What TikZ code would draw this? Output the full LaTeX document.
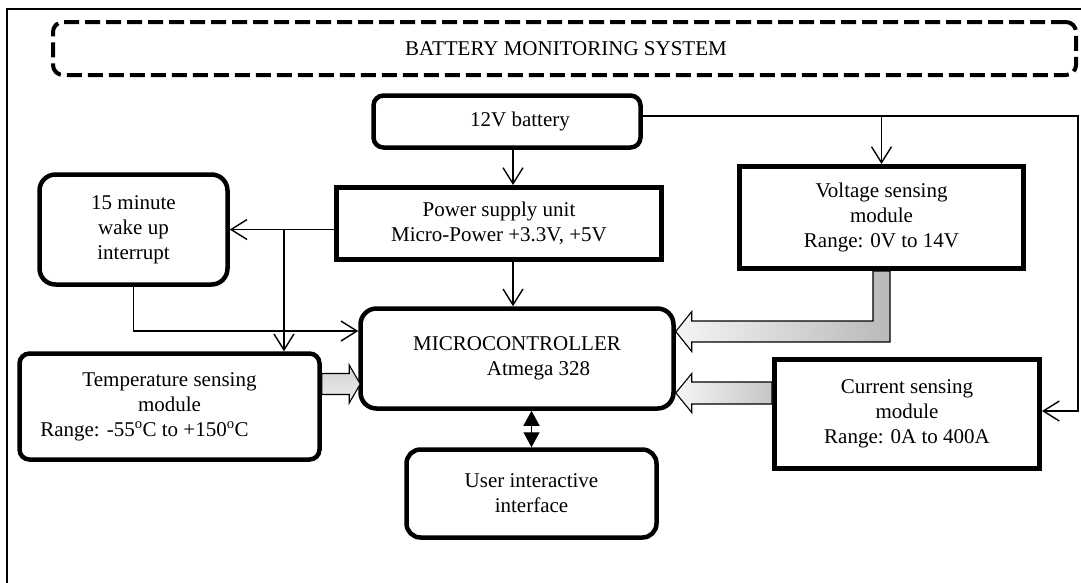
\documentclass[tikz,border=0pt]{standalone}
\usepackage{fontspec}
\setmainfont{Liberation Serif}
\usetikzlibrary{arrows.meta,calc}
\begin{document}
\begin{tikzpicture}[x=1pt,y=-1pt,
  every node/.style={font=\fontsize{21}{25}\selectfont, align=center, inner sep=0pt},
  rbox/.style={draw, line width=4.5pt, rounded corners=12pt},
  sbox/.style={draw, line width=5pt},
  conn/.style={line width=1.4pt, -{Straight Barb[length=16pt,width=20pt,line width=1.4pt]}},
  wire/.style={line width=1.4pt},
  fat/.style={draw=black, line width=1.1pt},
]
\clip (0,0) rectangle (1081,582);
\fill[white] (0,0) rectangle (1081,582);
% outer frame
\draw[line width=1.6pt] (7,620) -- (7,9) -- (1120,9);

% title
\node[draw, line width=4pt, dash pattern=on 15pt off 6pt, rounded corners=10pt,
      minimum width=1023pt, minimum height=53pt] (title) at (564.5,48.5)
      {\hspace*{3pt}BATTERY MONITORING SYSTEM};

% boxes
\node[rbox, rounded corners=10pt, minimum width=267pt, minimum height=52pt] (bat) at (507,121.5) {\hspace*{26pt}12V battery};
\node[sbox, minimum width=325pt, minimum height=72pt] (psu) at (499,223.5) {Power supply unit\\Micro-Power +3.3V, +5V};
\node[rbox, rounded corners=16pt, minimum width=188pt, minimum height=110pt] (wake) at (133.5,229.5) {15 minute\\wake up\\interrupt};
\node[sbox, minimum width=284pt, minimum height=102pt] (volt) at (881.5,217.5) {Voltage sensing\\module\\Range: 0V to 14V};
\node[rbox, rounded corners=16pt, minimum width=313pt, minimum height=100pt] (mcu) at (517,358.5) {MICROCONTROLLER\\\hspace*{43pt}Atmega 328};
\node[rbox, rounded corners=10pt, minimum width=300pt, minimum height=106pt] (temp) at (169.5,406.5) {Temperature sensing\\module\\Range: -55\textsuperscript{o}C to +150\textsuperscript{o}C\hspace*{50pt}};
\node[sbox, minimum width=265pt, minimum height=109pt] (cur) at (907,414) {Current sensing\\module\\Range: 0A to 400A};
\node[rbox, rounded corners=14pt, minimum width=250pt, minimum height=88pt] (ui) at (531.5,493.5) {User interactive\\interface};

% thin connectors
\draw[conn] ([xshift=6pt]bat.south) -- ([xshift=6pt]bat.south |- psu.north);
\draw[conn] ([xshift=14pt]psu.south) -- ([xshift=14pt]psu.south |- mcu.north);
\draw[conn] (psu.west |- wake.east) -- (wake.east);
\path (psu.west |- wake.east) -- (wake.east) coordinate[pos=0.48] (br);
\draw[conn] (br) -- (br |- temp.north);
\draw[conn] (wake.south) |- ([yshift=27.5pt]mcu.west);
\coordinate (rc) at (1078,116);
\draw[conn] ([yshift=5.5pt]bat.east) -- (rc) |- ([yshift=3pt]cur.east);
\draw[conn] (volt.north |- rc) -- (volt.north);

% double arrow MCU <-> UI
\draw[line width=1.4pt, {Triangle[length=15pt,width=16pt]}-{Triangle[length=15pt,width=16pt]}]
  (ui.north |- mcu.south) -- (ui.north);

% fat arrows
\coordinate (tA) at ([yshift=22.5pt]temp.east);
\coordinate (tB) at (mcu.west |- tA);
\path[fat, top color=gray!35, bottom color=gray!15]
  ($(tA)+(0,-10.5)$) -- ($(tB)+(-9,-10.5)$) -- ($(tB)+(-9,-19)$) -- ($(tB)+(2,0)$)
  -- ($(tB)+(-9,19)$) -- ($(tB)+(-9,10.5)$) -- ($(tA)+(0,10.5)$) -- cycle;

\coordinate (cA) at ([yshift=21pt]cur.west);
\coordinate (cB) at (mcu.east |- cA);
\path[fat, left color=gray!8, right color=gray!45]
  ($(cA)+(0,-11)$) -- ($(cB)+(16,-11)$) -- ($(cB)+(16,-19.5)$) -- (cB)
  -- ($(cB)+(16,19.5)$) -- ($(cB)+(16,11)$) -- ($(cA)+(0,11)$) -- cycle;

\coordinate (vA) at (volt.south);
\coordinate (vB) at ([yshift=27pt]mcu.east);
\path[fat, left color=gray!8, right color=gray!55]
  ($(vA)+(-8.5,0)$) -- ($(vA|-vB)+(-8.5,-10.5)$) -- ($(vB)+(16,-10.5)$) -- ($(vB)+(16,-20)$)
  -- (vB) -- ($(vB)+(16,20)$) -- ($(vB)+(16,10.5)$) -- ($(vA|-vB)+(8.5,10.5)$)
  -- ($(vA)+(8.5,0)$) -- cycle;
\end{tikzpicture}
\end{document}
